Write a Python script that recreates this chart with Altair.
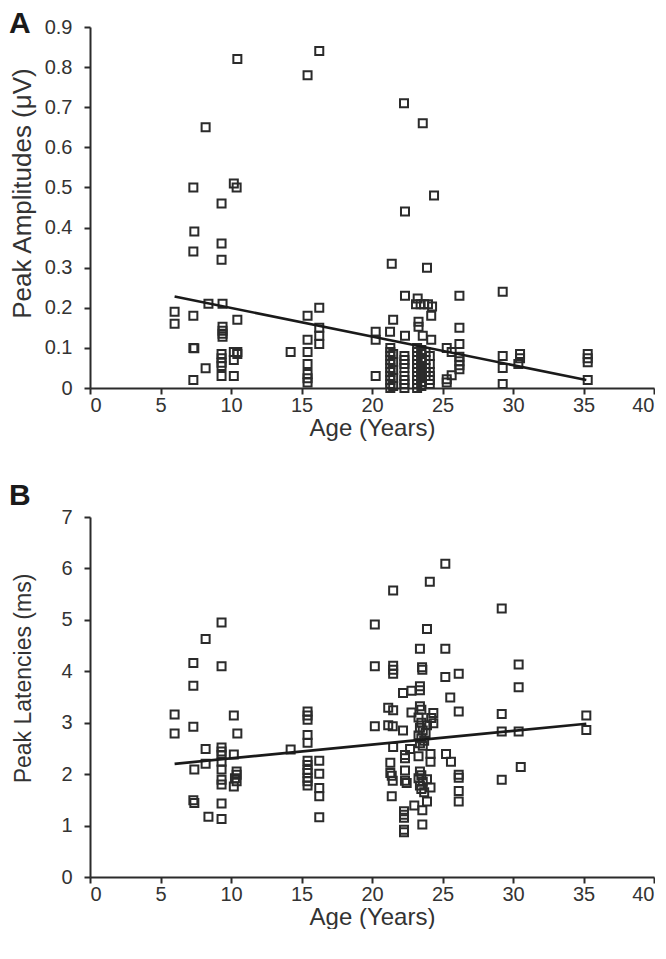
import altair as alt
import pandas as pd

# ---------------- Panel A : peak amplitudes (uV) vs age ----------------
a_age = [6.0, 6.0,
         7.33, 7.4, 7.33, 7.33, 7.33, 7.4, 7.33,
         8.2, 8.4, 8.2,
         9.33, 9.33, 9.33, 9.4, 9.4, 9.4, 9.4, 9.4, 9.33, 9.33, 9.33, 9.33, 9.33,
         10.45, 10.2, 10.4, 10.45, 10.2, 10.45, 10.2, 10.45, 10.2,
         14.23,
         15.43, 15.43, 15.43, 15.43, 15.43, 15.43, 15.43, 15.43,
         16.26, 16.26, 16.26, 16.26, 16.26,
         20.26, 20.26, 20.26,
         21.4, 21.5, 21.28,
         22.27, 22.34, 22.34, 22.34,
         23.6, 23.9, 23.24, 23.12, 23.45, 23.7, 23.97, 24.26, 24.2, 23.3, 23.3, 23.6, 24.2,
         24.4,
         25.3, 25.65, 25.65, 25.3, 25.3,
         26.2, 26.2, 26.2, 26.2, 26.2, 26.2, 26.2,
         29.27, 29.27, 29.27, 29.27,
         30.5, 30.5, 30.38,
         35.3, 35.3, 35.3, 35.3,
         21.3, 21.3, 21.3, 21.3, 21.3, 21.3, 21.3, 21.3, 21.3, 21.3, 21.3,
         21.5, 21.5, 21.5, 21.5, 21.5,
         22.3, 22.3, 22.3, 22.3, 22.3, 22.3, 22.3, 22.3,
         23.2, 23.2, 23.2, 23.2, 23.2, 23.2, 23.2, 23.2, 23.2, 23.2, 23.2,
         23.5, 23.5, 23.5, 23.5, 23.5, 23.5, 23.5, 23.5, 23.5, 23.5,
         23.8, 23.8, 23.8, 23.8, 23.8,
         24.1, 24.1, 24.1, 24.1, 24.1, 24.1]
a_amp = [0.19, 0.16,
         0.50, 0.39, 0.34, 0.18, 0.10, 0.099, 0.02,
         0.65, 0.21, 0.049,
         0.46, 0.36, 0.32, 0.21, 0.153, 0.143, 0.135, 0.128, 0.085, 0.074, 0.063, 0.055, 0.03,
         0.82, 0.51, 0.50, 0.17, 0.09, 0.09, 0.07, 0.085, 0.03,
         0.09,
         0.78, 0.18, 0.12, 0.09, 0.06, 0.035, 0.024, 0.014,
         0.84, 0.20, 0.15, 0.13, 0.11,
         0.14, 0.12, 0.03,
         0.31, 0.17, 0.14,
         0.71, 0.44, 0.23, 0.13,
         0.66, 0.30, 0.223, 0.209, 0.209, 0.209, 0.209, 0.203, 0.18, 0.153, 0.165, 0.13, 0.12,
         0.48,
         0.10, 0.09, 0.032, 0.022, 0.014,
         0.23, 0.15, 0.11, 0.078, 0.067, 0.057, 0.047,
         0.24, 0.08, 0.05, 0.01,
         0.085, 0.074, 0.06,
         0.085, 0.074, 0.064, 0.02,
         0.10, 0.09, 0.08, 0.07, 0.06, 0.05, 0.04, 0.03, 0.02, 0.01, 0.0,
         0.085, 0.065, 0.045, 0.025, 0.005,
         0.08, 0.07, 0.06, 0.05, 0.03, 0.02, 0.01, 0.0,
         0.10, 0.09, 0.08, 0.07, 0.06, 0.05, 0.04, 0.03, 0.02, 0.01, 0.0,
         0.095, 0.085, 0.075, 0.065, 0.055, 0.045, 0.035, 0.025, 0.015, 0.005,
         0.09, 0.07, 0.05, 0.04, 0.03,
         0.08, 0.06, 0.04, 0.03, 0.02, 0.01]
fitA_age = [6.0, 35.2]
fitA_amp = [0.228, 0.020]

# ---------------- Panel B : peak latencies (ms) vs age ----------------
b_age = [6.0, 6.0,
         7.33, 7.33, 7.33, 7.4, 7.33, 7.4,
         8.2, 8.2, 8.2, 8.4,
         9.33, 9.33, 9.33, 9.33, 9.33, 9.33, 9.33, 9.33, 9.33, 9.33, 9.33,
         10.2, 10.45, 10.2, 10.4, 10.4, 10.28, 10.4, 10.2,
         14.23,
         15.43, 15.43, 15.43, 15.43, 15.43, 15.43, 15.43, 15.43, 15.43, 15.43, 15.43, 15.43,
         16.26, 16.26, 16.26, 16.26, 16.26,
         20.2, 20.2, 20.2,
         21.5, 21.5, 21.5, 21.5, 21.15, 21.5, 21.15, 21.47, 21.5, 21.3, 21.3, 21.4, 21.47, 21.4,
         22.2, 22.8, 22.2, 22.7, 22.34, 22.34, 22.34, 22.34, 22.46, 22.27, 22.27, 22.27, 22.27, 22.27, 22.8,
         23.4, 23.55, 23.57, 23.4, 23.4, 23.4, 23.5, 23.3, 23.0, 23.57, 23.57, 23.9, 23.9,
         23.3, 23.5, 23.4, 23.6, 23.3, 23.5, 23.7, 23.4, 23.6, 23.8, 23.9,
         23.4, 23.5, 23.3, 23.6, 23.4, 23.5, 23.7, 23.9,
         24.1, 24.35, 24.2, 24.35, 24.15, 24.15, 24.15,
         25.2, 25.2, 25.2, 25.55, 25.25, 25.6,
         26.15, 26.15, 26.15, 26.15, 26.15, 26.15,
         29.2, 29.2, 29.2, 29.2,
         30.4, 30.4, 30.4, 30.55,
         35.2, 35.2]
b_lat = [3.16, 2.79,
         4.16, 3.72, 2.92, 2.09, 1.49, 1.44,
         4.63, 2.49, 2.20, 1.17,
         4.95, 4.10, 2.52, 2.44, 2.37, 2.24, 2.09, 1.89, 1.80, 1.43, 1.13,
         3.14, 2.79, 2.38, 2.05, 1.99, 1.92, 1.86, 1.76,
         2.48,
         3.22, 3.14, 3.06, 2.76, 2.61, 2.26, 2.18, 2.08, 2.02, 1.93, 1.86, 1.78,
         2.26, 2.01, 1.73, 1.57, 1.16,
         4.91, 4.10, 2.93,
         5.57, 4.11, 4.03, 3.95, 3.29, 3.24, 2.95, 2.93, 2.53, 2.22, 2.02, 1.97, 1.87, 1.57,
         3.58, 3.62, 2.85, 2.49, 2.37, 2.31, 2.07, 1.87, 1.83, 1.28, 1.21, 1.15, 0.92, 0.87, 3.20,
         4.44, 4.08, 4.03, 3.63, 3.71, 3.32, 3.25, 2.35, 1.39, 1.30, 1.02, 4.82, 1.47,
         3.10, 3.00, 2.90, 2.85, 2.75, 2.70, 2.65, 2.60, 2.55, 2.80, 2.95,
         2.05, 1.98, 1.92, 1.85, 1.78, 1.71, 1.65, 1.90,
         5.74, 3.19, 3.09, 2.99, 2.39, 2.24, 1.74,
         6.09, 4.44, 3.89, 3.49, 2.39, 2.24,
         3.95, 3.22, 1.99, 1.93, 1.67, 1.47,
         5.22, 3.17, 2.83, 1.89,
         4.13, 3.69, 2.83, 2.14,
         3.14, 2.86]
fitB_age = [6.0, 35.2]
fitB_lat = [2.20, 2.98]

x_ticks = [0, 5, 10, 15, 20, 25, 30, 35, 40]
ya_ticks = [0, 0.1, 0.2, 0.3, 0.4, 0.5, 0.6, 0.7, 0.8, 0.9]
yb_ticks = [0, 1, 2, 3, 4, 5, 6, 7]

FONT = "Liberation Sans"
INK = "#2b2b2b"

dfA = pd.DataFrame({"age": a_age, "val": a_amp})
dfB = pd.DataFrame({"age": b_age, "val": b_lat})
fitA = pd.DataFrame({"age": fitA_age, "val": fitA_amp})
fitB = pd.DataFrame({"age": fitB_age, "val": fitB_lat})


def panel(df, fit, letter, letter_y, ytitle, ytitle_size, ytitle_y, ydomain, yticks, yfmt, h):
    xax = alt.Axis(values=x_ticks, title="Age (Years)", labelPadding=1,
                   titleY=28, titleFontSize=24)
    yax = alt.Axis(values=yticks, title=ytitle, format=yfmt, labelPadding=12,
                   titleX=-55, titleY=ytitle_y, titleFontSize=ytitle_size)
    xs = alt.Scale(domain=[0, 40], nice=False)
    ys = alt.Scale(domain=ydomain, nice=False)
    pts = alt.Chart(df).mark_point(shape="square", filled=False, size=64,
                                   strokeWidth=2, color=INK, opacity=1).encode(
        x=alt.X("age:Q", scale=xs, axis=xax),
        y=alt.Y("val:Q", scale=ys, axis=yax),
    )
    line = alt.Chart(fit).mark_line(color="#1a1a1a", strokeWidth=2.6).encode(
        x=alt.X("age:Q", scale=xs), y=alt.Y("val:Q", scale=ys))
    lab = alt.Chart(pd.DataFrame({"t": [letter]})).mark_text(
        font=FONT, fontSize=30, fontWeight="bold", color="#1a1a1a",
        align="left", baseline="top").encode(
        text="t:N", x=alt.value(-81), y=alt.value(letter_y))
    return alt.layer(pts, line, lab).properties(width=564, height=h)


A = panel(dfA, fitA, "A", -18, "Peak Amplitudes (\u03bcV)", 26, 166,
          [0, 0.9], ya_ticks, "~g", 361)
B = panel(dfB, fitB, "B", -36, "Peak Latencies (ms)", 23, 161,
          [0, 7], yb_ticks, "d", 360)

chart = alt.vconcat(A, B, spacing=41).properties(
    padding={"left": 1, "top": 1, "right": 0, "bottom": 0}
).configure_view(stroke=None).configure_axis(
    domainColor=INK, domainWidth=2, tickColor=INK, tickWidth=2, tickSize=6,
    labelFont=FONT, labelFontSize=20, labelColor="#333333",
    titleFont=FONT, titleFontWeight="normal", titleColor="#333333",
    grid=False
)

chart.save("out.html", embed_options={"renderer": "svg", "actions": False})
